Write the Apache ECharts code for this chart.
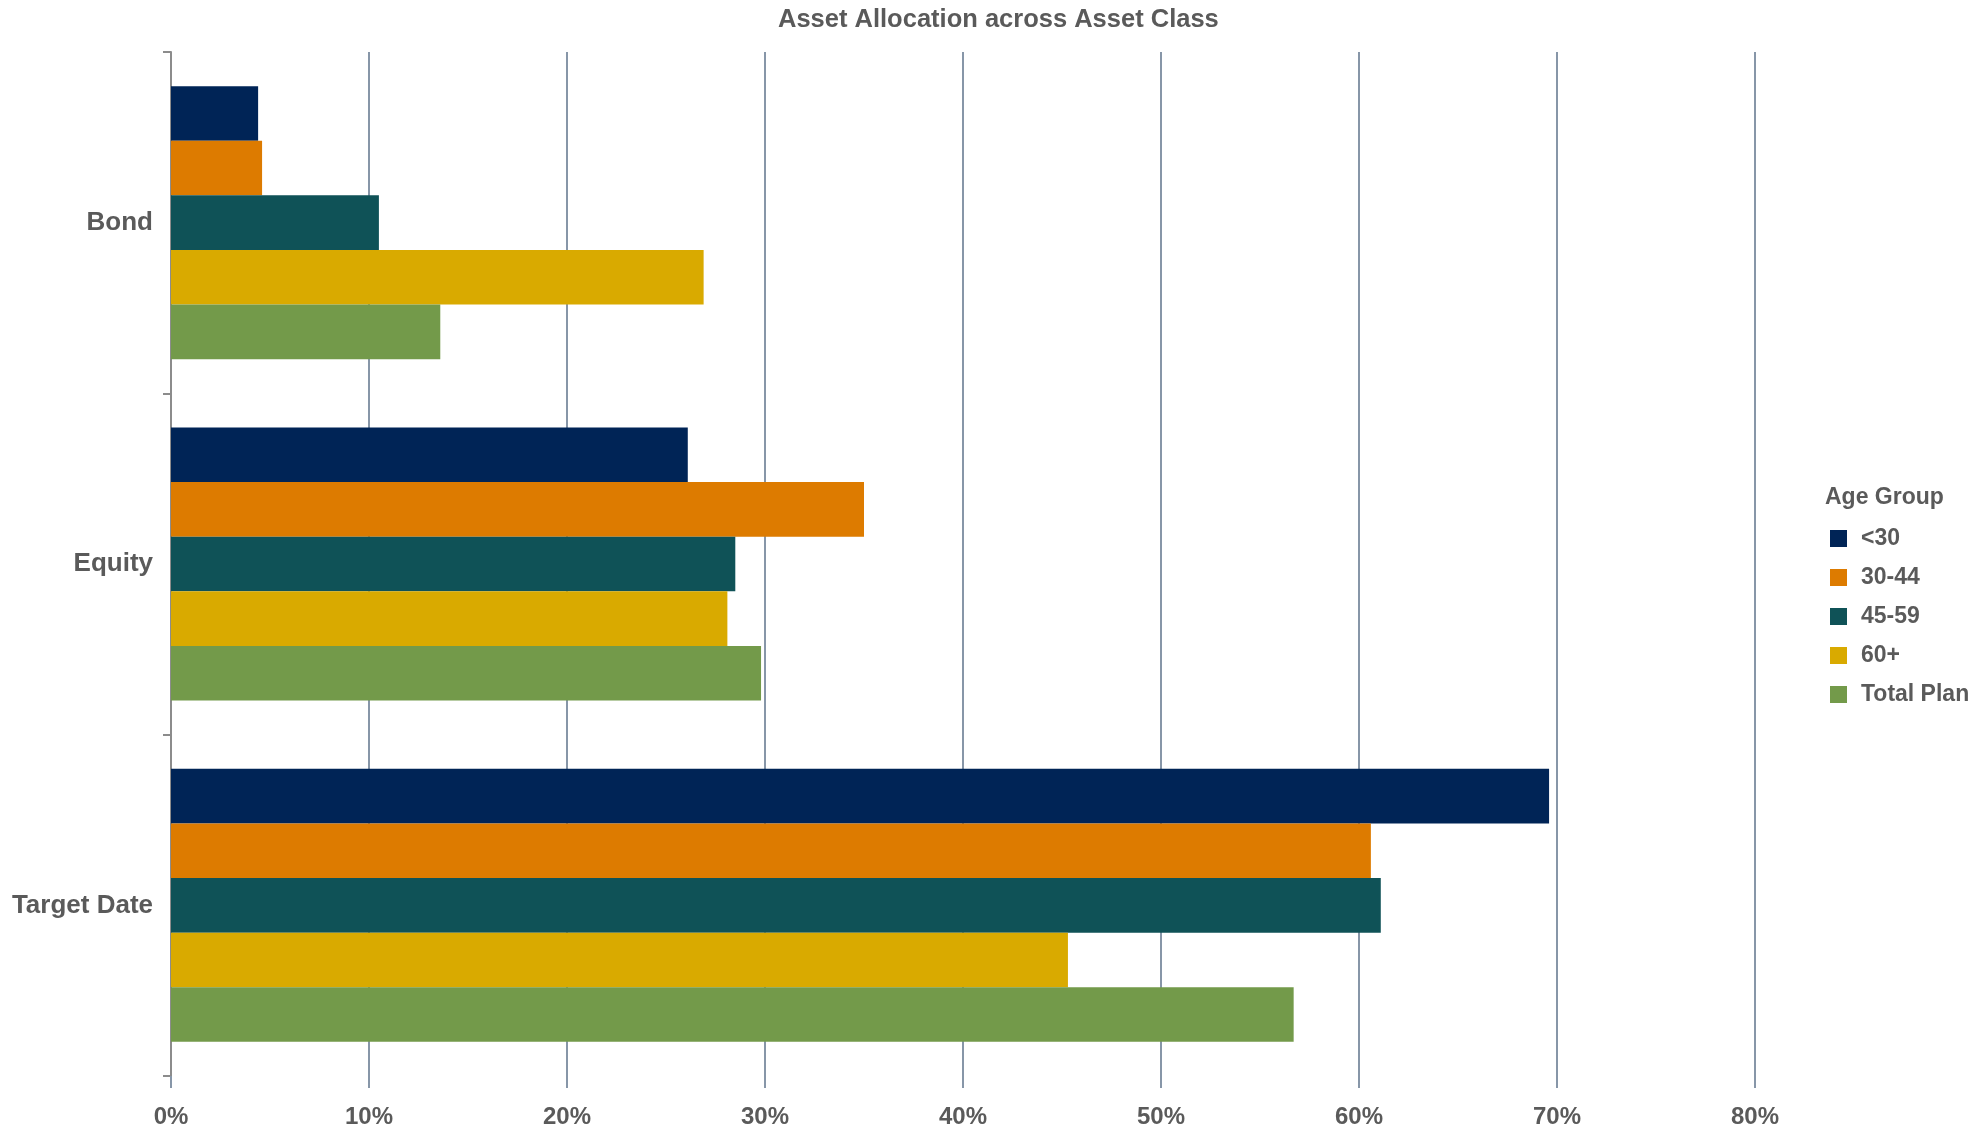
<!DOCTYPE html>
<html>
<head>
<meta charset="utf-8">
<title>Asset Allocation across Asset Class</title>
<script src="https://cdn.jsdelivr.net/npm/echarts@6/dist/echarts.min.js"></script>
<style>
  html, body { margin: 0; padding: 0; background: #ffffff; }
  #chart { width: 1975px; height: 1131px; }
</style>
</head>
<body>
<div id="chart"></div>
<script>
// Asset classes on the category axis (top to bottom)
const assetClasses = ['Bond', 'Equity', 'Target Date'];

// Share of assets (%) per age group, in assetClasses order
const under30   = [4.4, 26.1, 69.6];
const age30to44 = [4.6, 35.0, 60.6];
const age45to59 = [10.5, 28.5, 61.1];
const age60plus = [26.9, 28.1, 45.3];
const totalPlan = [13.6, 29.8, 56.7];

const groupNames  = ['<30', '30-44', '45-59', '60+', 'Total Plan'];
const groupValues = [under30, age30to44, age45to59, age60plus, totalPlan];
const groupColors = ['#002456', '#dd7b00', '#0f5257', '#d9aa00', '#739a4a'];

// Percent ticks along the value axis
const axisMin = 0;
const axisMax = 80;
const axisStep = 10;

const textGrey = '#5a5a5a';
const gridBlue = '#8796a8';
const fontFamily = '"Liberation Sans", Arial, sans-serif';

const chart = echarts.init(document.getElementById('chart'));

chart.setOption({
  animation: false,
  backgroundColor: '#ffffff',
  textStyle: { fontFamily: fontFamily },
  title: [
    {
      text: 'Asset Allocation across Asset Class',
      left: 773,
      top: 2,
      textStyle: { fontSize: 25.5, fontWeight: 'bold', color: textGrey, fontFamily: fontFamily }
    },
    {
      text: 'Age Group',
      left: 1820,
      top: 481,
      textStyle: { fontSize: 23, fontWeight: 'bold', color: textGrey, fontFamily: fontFamily }
    }
  ],
  legend: {
    orient: 'vertical',
    left: 1825,
    top: 522,
    icon: 'rect',
    itemWidth: 17,
    itemHeight: 17,
    itemGap: 16,
    data: groupNames,
    textStyle: {
      fontSize: 23,
      fontWeight: 'bold',
      color: textGrey,
      lineHeight: 17,
      padding: [0, 0, 0, 9],
      fontFamily: fontFamily
    }
  },
  grid: {
    left: 171,
    right: 220,
    top: 52,
    bottom: 55,
    containLabel: false
  },
  xAxis: {
    type: 'value',
    min: axisMin,
    max: axisMax,
    interval: axisStep,
    axisLine: { show: false },
    axisTick: { show: true, length: 12, lineStyle: { color: gridBlue, width: 2 } },
    splitLine: { show: true, lineStyle: { color: gridBlue, width: 2 } },
    axisLabel: {
      formatter: '{value}%',
      fontSize: 24,
      fontWeight: 'bold',
      color: textGrey,
      margin: 29,
      fontFamily: fontFamily
    }
  },
  yAxis: {
    type: 'category',
    inverse: true,
    data: assetClasses,
    axisLine: { show: true, lineStyle: { color: '#8c8c8c', width: 2 } },
    axisTick: { show: true, length: 8, lineStyle: { color: '#8c8c8c', width: 2 } },
    axisLabel: {
      fontSize: 26,
      fontWeight: 'bold',
      color: textGrey,
      margin: 18,
      fontFamily: fontFamily
    },
    splitLine: { show: false }
  },
  series: groupNames.map((name, i) => ({
    name: name,
    type: 'bar',
    data: groupValues[i],
    barGap: '0%',
    barCategoryGap: '20%',
    itemStyle: { color: groupColors[i] }
  }))
});
</script>
</body>
</html>
